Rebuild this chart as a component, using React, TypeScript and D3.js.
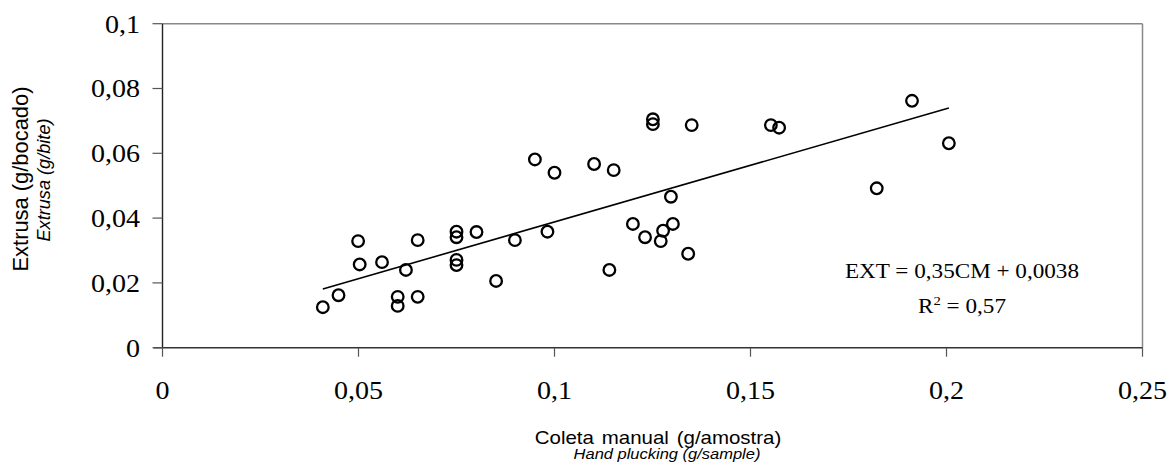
import React from "react";
import * as d3 from "d3";

const xValues = [
  0.0409, 0.0449, 0.0499, 0.0503, 0.056, 0.06, 0.06, 0.0621, 0.0651, 0.0651,
  0.075, 0.075, 0.075, 0.075, 0.0801, 0.0851, 0.0899, 0.095, 0.0982, 0.1,
  0.1101, 0.114, 0.1151, 0.12, 0.1231, 0.1251, 0.1251, 0.1271, 0.1277, 0.1297,
  0.1302, 0.1341, 0.135, 0.1552, 0.1573, 0.1822, 0.1912, 0.2006,
];
const yValues = [
  0.0125, 0.0162, 0.0329, 0.0257, 0.0264, 0.0157, 0.0129, 0.024, 0.0332, 0.0157,
  0.0358, 0.0341, 0.0271, 0.0255, 0.0357, 0.0206, 0.0332, 0.0581, 0.0358, 0.054,
  0.0567, 0.024, 0.0548, 0.0382, 0.0341, 0.0705, 0.069, 0.0329, 0.0361, 0.0466,
  0.0382, 0.029, 0.0687, 0.0687, 0.0679, 0.0492, 0.0762, 0.0631,
];
const slope = 0.35;
const intercept = 0.0038;
const xTicks = [0, 0.05, 0.1, 0.15, 0.2, 0.25];
const xTickLabels = ["0", "0,05", "0,1", "0,15", "0,2", "0,25"];
const yTicks = [0, 0.02, 0.04, 0.06, 0.08, 0.1];
const yTickLabels = ["0", "0,02", "0,04", "0,06", "0,08", "0,1"];

const W = 1168;
const H = 469;
const left = 162.5;
const right = 1142.5;
const top = 23.7;
const bottom = 347.7;
const SX = 1.1;

export default function App() {
  const x = d3.scaleLinear().domain([0, 0.25]).range([left, right]);
  const y = d3.scaleLinear().domain([0, 0.1]).range([bottom, top]);
  const xMin = d3.min(xValues) as number;
  const xMax = d3.max(xValues) as number;
  const line = d3
    .line<number>()
    .x((d) => x(d))
    .y((d) => y(slope * d + intercept));
  const serif = "'Liberation Serif', 'Times New Roman', serif";
  const sans = "'Liberation Sans', Arial, sans-serif";
  return (
    <svg
      width={W}
      height={H}
      style={{ position: "absolute", left: 0, top: 0, background: "#fff" }}
    >
      {/* plot frame: top & right grey */}
      <line x1={left} x2={right} y1={top} y2={top} stroke="#888" strokeWidth={1.5} />
      <line x1={right} x2={right} y1={top} y2={bottom} stroke="#888" strokeWidth={1.5} />
      {/* axes */}
      <line x1={left} x2={left} y1={top} y2={bottom} stroke="#222" strokeWidth={1.4} />
      <line x1={left - 9} x2={right} y1={bottom} y2={bottom} stroke="#333" strokeWidth={1.5} />
      {yTicks.map((t, i) => (
        <g key={"y" + i}>
          <line x1={left - 10} x2={left} y1={y(t)} y2={y(t)} stroke="#555" strokeWidth={1.2} />
          <text
            transform={`translate(140,${y(t) + 8.8}) scale(${SX},1)`}
            textAnchor="end"
            fontFamily={serif}
            fontSize={25.5}
            fill="#000"
          >
            {yTickLabels[i]}
          </text>
        </g>
      ))}
      {xTicks.map((t, i) => (
        <g key={"x" + i}>
          <line x1={x(t)} x2={x(t)} y1={bottom} y2={bottom + 9} stroke="#555" strokeWidth={1.2} />
          <text
            transform={`translate(${x(t)},398.5) scale(${SX},1)`}
            textAnchor="middle"
            fontFamily={serif}
            fontSize={25.5}
            fill="#000"
          >
            {xTickLabels[i]}
          </text>
        </g>
      ))}
      {/* regression line */}
      <path d={line([xMin, xMax]) || ""} fill="none" stroke="#000" strokeWidth={1.6} />
      {/* points */}
      {xValues.map((v, i) => (
        <circle
          key={"p" + i}
          cx={x(v)}
          cy={y(yValues[i])}
          r={5.8}
          fill="none"
          stroke="#000"
          strokeWidth={2.3}
        />
      ))}
      {/* equation */}
      <text
        transform={`translate(962,278.3) scale(1.13,1)`}
        textAnchor="middle"
        fontFamily={serif}
        fontSize={20.5}
        fill="#000"
      >
        EXT = 0,35CM + 0,0038
      </text>
      <text
        transform={`translate(962,313.3) scale(1.13,1)`}
        textAnchor="middle"
        fontFamily={serif}
        fontSize={20.5}
        fill="#000"
      >
        R
        <tspan fontSize={13} dy={-8}>
          2
        </tspan>
        <tspan dy={8}> = 0,57</tspan>
      </text>
      {/* x titles */}
      <text
        transform={`translate(658,443.5) scale(1.1,1)`}
        textAnchor="middle"
        fontFamily={sans}
        fontSize={18.6}
        wordSpacing={2}
        fill="#000"
      >
        Coleta manual (g/amostra)
      </text>
      <text
        transform={`translate(667,458.5) scale(1.1,1)`}
        textAnchor="middle"
        fontFamily={sans}
        fontStyle="italic"
        fontSize={15}
        fill="#000"
      >
        Hand plucking (g/sample)
      </text>
      {/* y titles */}
      <text
        transform={`translate(27.5,179) rotate(-90) scale(1,1.1)`}
        textAnchor="middle"
        fontFamily={sans}
        fontSize={20}
        textLength={185}
        lengthAdjust="spacingAndGlyphs"
        fill="#000"
      >
        Extrusa  (g/bocado)
      </text>
      <text
        transform={`translate(49.5,180) rotate(-90) scale(1,1.1)`}
        textAnchor="middle"
        fontFamily={sans}
        fontStyle="italic"
        fontSize={16}
        textLength={123}
        lengthAdjust="spacingAndGlyphs"
        fill="#000"
      >
        Extrusa (g/bite)
      </text>
    </svg>
  );
}
